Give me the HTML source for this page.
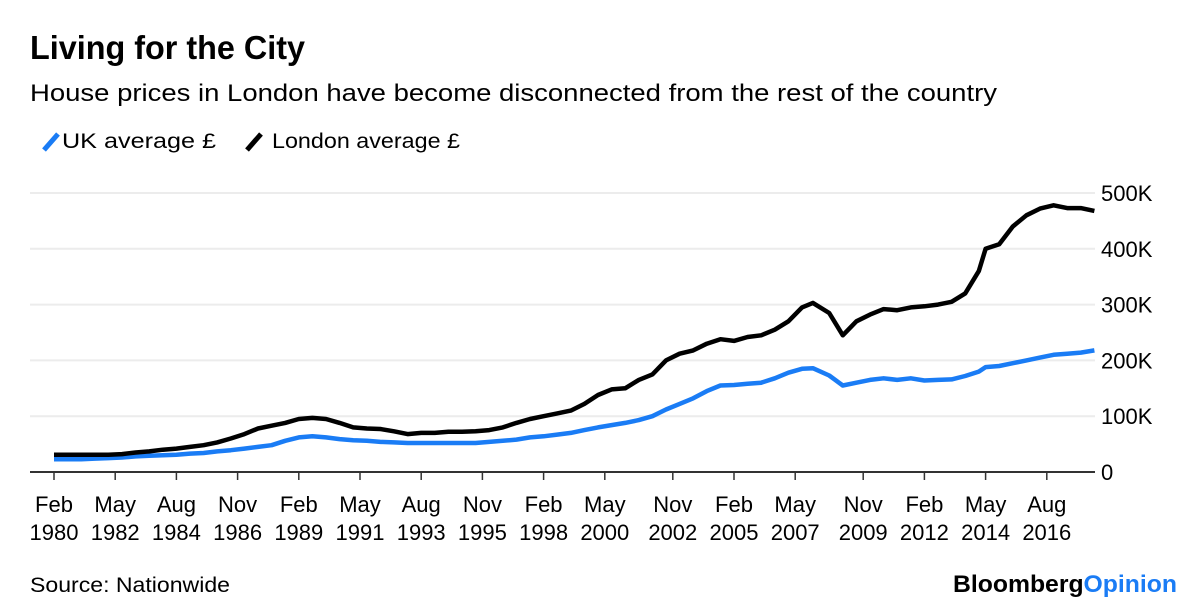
<!DOCTYPE html>
<html><head><meta charset="utf-8"><style>
body{margin:0;background:#fff;width:1200px;height:612px;overflow:hidden;font-family:"Liberation Sans",Arial,sans-serif;}
svg{display:block}
</style></head><body>
<svg width="1200" height="612" id="svg">
<text x="30" y="59" font-size="33" font-weight="bold" fill="#000" textLength="275" lengthAdjust="spacingAndGlyphs">Living for the City</text>
<text x="30" y="101" font-size="24" fill="#000" textLength="967" lengthAdjust="spacingAndGlyphs">House prices in London have become disconnected from the rest of the country</text>
<g>
<line x1="44" y1="150" x2="58" y2="134" stroke="#1a7cf5" stroke-width="5"/>
<text x="62" y="148" font-size="21" textLength="154" lengthAdjust="spacingAndGlyphs">UK average £</text>
<line x1="247" y1="150" x2="261" y2="134" stroke="#000" stroke-width="5"/>
<text x="272" y="148" font-size="21" textLength="188" lengthAdjust="spacingAndGlyphs">London average £</text>
</g>
<g id="grid"></g><g id="xaxis"></g><g id="lines"></g>
<text x="30" y="592" font-size="21" textLength="200" lengthAdjust="spacingAndGlyphs">Source: Nationwide</text>
<text x="1177" y="592" font-size="24" font-weight="bold" text-anchor="end" textLength="224" lengthAdjust="spacingAndGlyphs"><tspan fill="#000">Bloomberg</tspan><tspan fill="#1a7cf5">Opinion</tspan></text>
</svg>
<script>
const years=[1980.0,1980.5,1981.0,1981.5,1982.0,1982.5,1983.0,1983.5,1984.0,1984.5,1985.0,1985.5,1986.0,1986.5,1987.0,1987.5,1988.0,1988.5,1989.0,1989.5,1990.0,1990.5,1991.0,1991.5,1992.0,1992.5,1993.0,1993.5,1994.0,1994.5,1995.0,1995.5,1996.0,1996.5,1997.0,1997.5,1998.0,1998.5,1999.0,1999.5,2000.0,2000.5,2001.0,2001.5,2002.0,2002.5,2003.0,2003.5,2004.0,2004.5,2005.0,2005.5,2006.0,2006.5,2007.0,2007.5,2007.9,2008.5,2009.0,2009.5,2010.0,2010.5,2011.0,2011.5,2012.0,2012.5,2013.0,2013.5,2014.0,2014.25,2014.75,2015.25,2015.75,2016.25,2016.75,2017.25,2017.75,2018.25];
const london=[31,31,31,31,31,32,35,37,40,42,45,48,53,60,68,78,83,88,95,97,95,88,80,78,77,73,68,70,70,72,72,73,75,80,88,95,100,105,110,122,138,148,150,165,175,200,212,218,230,238,235,242,245,255,270,295,303,285,245,270,282,292,290,295,297,300,305,320,360,400,408,440,460,472,478,473,473,468];
const uk=[23,23,23,24,25,26,28,29,30,31,33,34,37,39,42,45,48,56,62,64,62,59,57,56,54,53,52,52,52,52,52,52,54,56,58,62,64,67,70,75,80,84,88,93,100,112,122,132,145,155,156,158,160,168,178,185,186,173,155,160,165,168,165,168,164,165,166,172,180,188,190,195,200,205,210,212,214,218];
const yTicks=[0,100,200,300,400,500];
const yTickLabels=["0","100K","200K","300K","400K","500K"];
const xTickYears=[1980.0,1982.25,1984.5,1986.75,1989.0,1991.25,1993.5,1995.75,1998.0,2000.25,2002.75,2005.0,2007.25,2009.75,2012.0,2014.25,2016.5];
const xTickLabels=["Feb|1980","May|1982","Aug|1984","Nov|1986","Feb|1989","May|1991","Aug|1993","Nov|1995","Feb|1998","May|2000","Nov|2002","Feb|2005","May|2007","Nov|2009","Feb|2012","May|2014","Aug|2016"];
const NS="http://www.w3.org/2000/svg";
const X0=54, PXY=27.2, Y0=472, PXK=0.558;
function xs(t){return X0+(t-1980)*PXY;}
function ys(v){return Y0-v*PXK;}
function mk(tag,attrs,parent){const e=document.createElementNS(NS,tag);for(const k in attrs)e.setAttribute(k,attrs[k]);parent.appendChild(e);return e;}
const grid=document.getElementById('grid');
yTicks.forEach((v,i)=>{
  if(v>0){const l=mk('line',{x1:30,x2:1095,y1:ys(v),y2:ys(v),stroke:'#ececec','stroke-width':2},grid);
  
  }
  const t=mk('text',{x:1101,y:ys(v)+8,'font-size':22},grid);
  t.textContent=yTickLabels[i];
  
  
});
const xa=document.getElementById('xaxis');
const ax=mk('line',{x1:30,x2:1095,y1:Y0,y2:Y0,stroke:'#333','stroke-width':2},xa);


xTickYears.forEach((t,i)=>{
  const tk=mk('line',{x1:xs(t),x2:xs(t),y1:Y0,y2:Y0+8,stroke:'#333','stroke-width':1.5},xa);
  
  
  const p=xTickLabels[i].split('|');
  const tx=mk('text',{x:xs(t),y:512,'font-size':22,'text-anchor':'middle'},xa);
  
  
  mk('tspan',{x:xs(t),dy:0},tx).textContent=p[0];
  mk('tspan',{x:xs(t),dy:28},tx).textContent=p[1];
});
const lg=document.getElementById('lines');
function draw(vals,color,name){
  const d=vals.map((v,i)=>(i?'L':'M')+xs(years[i]).toFixed(1)+','+ys(v).toFixed(1)).join('');
  const p=mk('path',{d:d,fill:'none',stroke:color,'stroke-width':4.5,'stroke-linejoin':'round'},lg);
  
  
}
draw(uk,'#1a7cf5','uk-average-line');
draw(london,'#000','london-average-line');
</script>
</body></html>
